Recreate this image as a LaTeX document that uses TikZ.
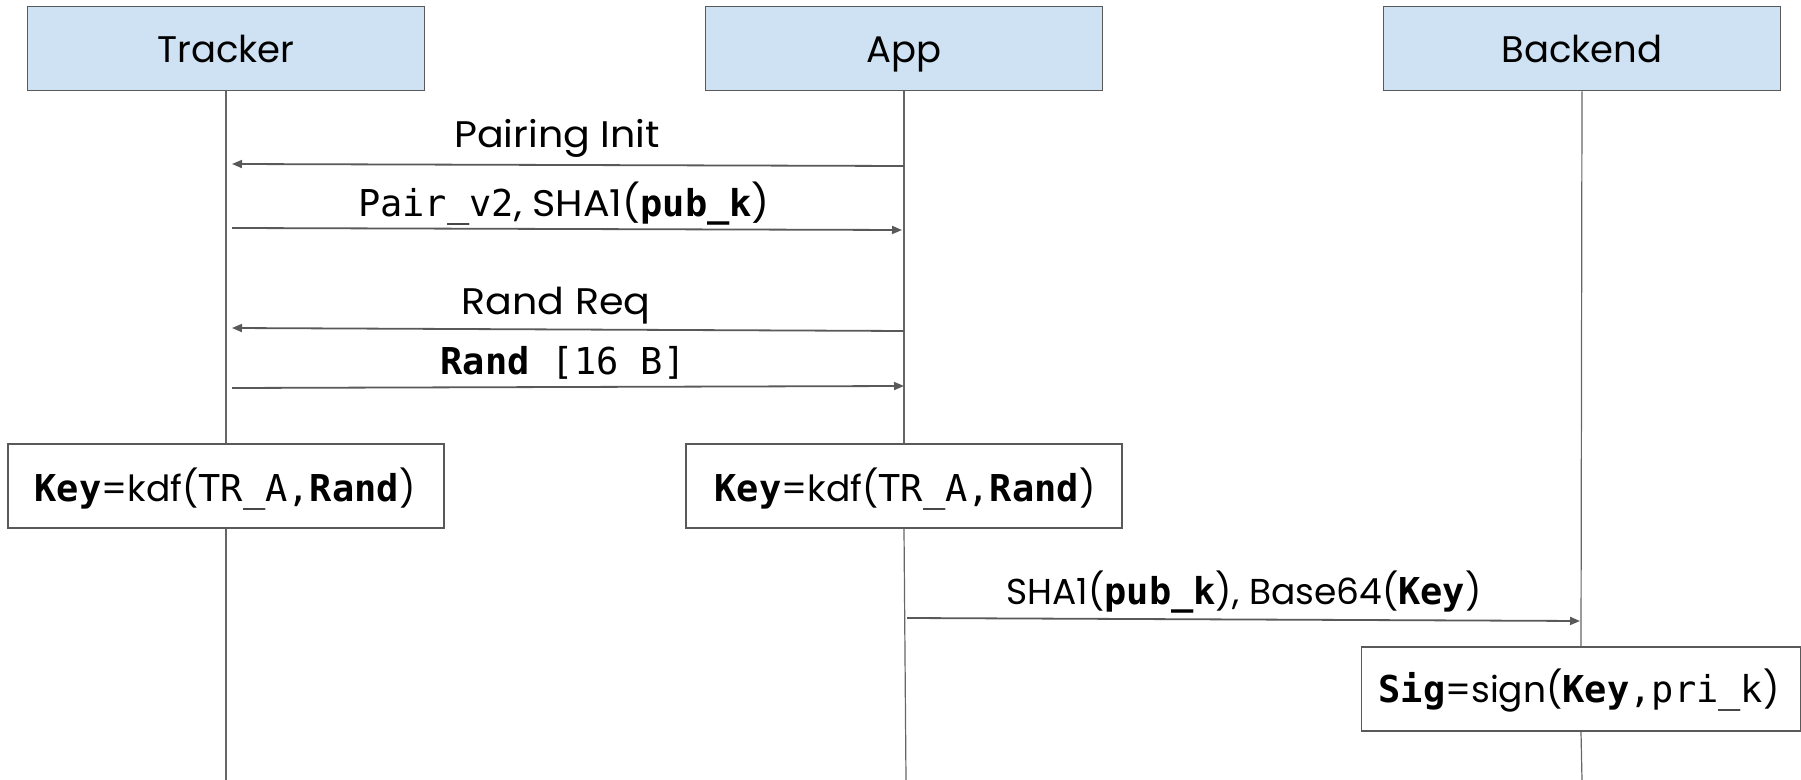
\documentclass[tikz,border=0pt]{standalone}
\usepackage{fontspec}
\setmainfont{Poppins}
\setmonofont{DejaVu Sans Mono}
\newfontfamily\labelfont{Poppins}[FakeStretch=1.07]
\usetikzlibrary{arrows.meta}
\definecolor{actorfill}{HTML}{CFE2F3}
\definecolor{edge}{HTML}{595959}
\definecolor{lifeline}{HTML}{666666}
\newcommand{\monob}[1]{{\ttfamily\bfseries\fontsize{18.5}{20}\selectfont #1}}
\newcommand{\monor}[1]{{\ttfamily\fontsize{18.5}{20}\selectfont #1}}
\begin{document}
\begin{tikzpicture}[x=0.5pt,y=-0.5pt,
  actor/.style={draw=edge,line width=0.8pt,fill=actorfill,minimum width=198.5pt,minimum height=42pt,inner sep=0pt},
  calc/.style={draw=edge,line width=0.8pt,fill=white,minimum height=42pt,inner sep=0pt},
  life/.style={draw=lifeline,line width=0.6pt},
  msg/.style={draw=edge,line width=0.9pt,-{Triangle[length=5pt,width=4pt]}},
  title/.style={anchor=base,inner sep=0pt,font=\fontsize{18.5}{20}\selectfont},
  lbl/.style={anchor=base,inner sep=0pt,font=\labelfont\fontsize{18.5}{20}\selectfont},
  mixed/.style={anchor=base,inner sep=0pt,font=\fontsize{18}{20}\selectfont}]
\useasboundingbox (0,0) rectangle (1801,780);

% participants
\node[actor] (tracker) at (226,48.5) {};
\node[actor] (app) at (904,48.5) {};
\node[actor] (backend) at (1582,48.5) {};
\node[title] (tT) at (226,63) {Tracker};
\node[title] (tA) at (904,63) {App};
\node[title] (tB) at (1582,63) {Backend};

% local computations
\node[calc,minimum width=218pt] (keyT) at (226,486) {};
\node[calc,minimum width=218pt] (keyA) at (904,486) {};
\node[calc,minimum width=219.5pt] (sig) at (1581,689) {};
\node[mixed] (keyTt) at (225,502) {\monob{Key}=kdf(\monor{TR\_A,}\monob{Rand})};
\node[mixed] (keyAt) at (905,502) {\monob{Key}=kdf(\monor{TR\_A,}\monob{Rand})};
\node[mixed] (sigt) at (1579,703) {\monob{Sig}=sign(\monob{Key}\monor{,pri\_k})};

% lifelines
\coordinate (tEnd) at (226,780);
\coordinate (aEnd) at (906,780);
\coordinate (bEnd) at (1582,780);
\draw[life] (tracker.south) -- (keyT.north);
\draw[life] (keyT.south) -- (tEnd);
\draw[life] (app.south) -- (keyA.north);
\draw[life] (keyA.south) -- (aEnd);
\draw[life] (backend.south) -- (sig.north);
\draw[life] (sig.south) -- (bEnd);

% message end points
\coordinate (m1a) at (904,166);
\coordinate (m1t) at (232,164);
\coordinate (m2t) at (232,228);
\coordinate (m2a) at (902,230);
\coordinate (m3a) at (904,331);
\coordinate (m3t) at (232,328);
\coordinate (m4t) at (232,388);
\coordinate (m4a) at (904,386);
\coordinate (m5a) at (907,618);
\coordinate (m5b) at (1580,621);

% messages
\draw[msg] (m1a) -- (m1t);
\draw[msg] (m2t) -- (m2a);
\draw[msg] (m3a) -- (m3t);
\draw[msg] (m4t) -- (m4a);
\draw[msg] (m5a) -- (m5b);

\node[lbl] (l1) at (557,148) {Pairing Init};
\node[lbl] (l2) at (564,217) {\monor{Pair\_v2}, SHA1(\monob{pub\_k})};
\node[lbl] (l3) at (556,315) {Rand Req};
\node[lbl] (l4) at (563,375) {\monob{Rand}\monor{ [16 B]}};
\node[mixed] (l5) at (1244,605) {SHA1(\monob{pub\_k}), Base64(\monob{Key})};
\end{tikzpicture}
\end{document}
